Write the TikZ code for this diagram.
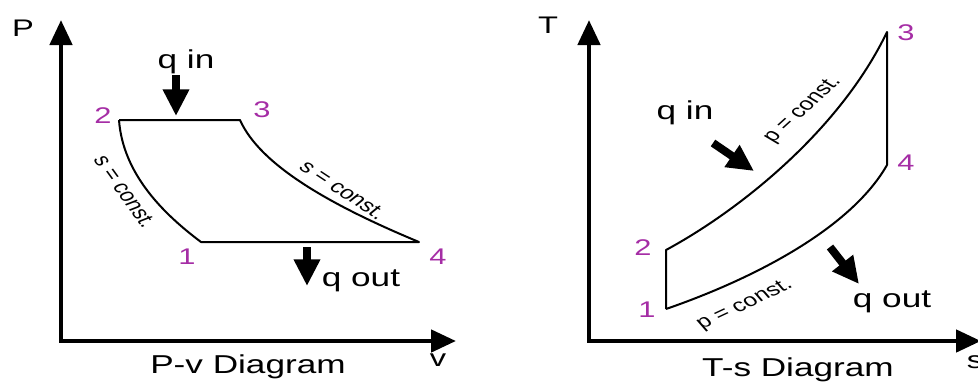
\documentclass[tikz,border=0pt]{standalone}
\usepackage{fontspec}
\setmainfont{Liberation Sans}
\usetikzlibrary{arrows.meta}
\definecolor{numcol}{RGB}{165,45,165}
\begin{document}
\begin{tikzpicture}[x=0.75pt,y=-0.75pt,
  axes/.style={line width=3.5pt,line join=miter,{Triangle[width=16.5pt,length=18.75pt]}-{Triangle[width=16.5pt,length=18.75pt]}},
  cyc/.style={line width=1.5pt,line join=round},
  heat/.style={line width=6pt,-{Triangle[width=18.75pt,length=20pt]}},
  big/.style={inner sep=0pt,xscale=1.36,font=\fontsize{19.4}{22}\selectfont},
  axlab/.style={inner sep=0pt,xscale=1.36,font=\fontsize{18}{21}\selectfont},
  num/.style={inner sep=0pt,xscale=1.36,text=numcol,font=\fontsize{17}{20}\selectfont},
  cst/.style={inner sep=0pt,xscale=1.36,font=\fontsize{13.7}{16}\selectfont},
]
\useasboundingbox (0,0) rectangle (978,383);
% ---------- P-v diagram ----------
\coordinate (O1) at (61,341);
\coordinate (Ptip) at (61,20);
\coordinate (vtip) at (456,341);
\draw[axes] (Ptip) -- (O1) -- (vtip);
\node[axlab] (Plab) at (23,28) {P};
\node[axlab] (vlab) at (438,360) {v};
\node[big] (pvtitle) at (248,367) {P-v Diagram};

\coordinate (p2) at (119,120);
\coordinate (p3) at (240,120);
\coordinate (p1) at (201,242);
\coordinate (p4) at (419,242);
\draw[cyc] (p2) -- (p3) .. controls (260,165) and (330,205) .. (p4) -- (p1) .. controls (165,215) and (123,175) .. (p2);

\node[num] (n2) at (103,116) {2};
\node[num] (n3) at (262,110) {3};
\node[num] (n1) at (187,257) {1};
\node[num] (n4) at (438,257) {4};

\node[big] (qin1) at (186,62) {q in};
\coordinate (qin1s) at (176,75);
\coordinate (qin1e) at (176,116);
\draw[heat] (qin1s) -- (qin1e);

\coordinate (qout1s) at (307,247);
\coordinate (qout1e) at (307,286);
\draw[heat] (qout1s) -- (qout1e);
\node[big] (qout1) at (361,281) {q out};

\node[cst,rotate=-62] (s12) at (125,192) {s = const.};
\node[cst,rotate=-42] (s34) at (343,190) {s = const.};

% ---------- T-s diagram ----------
\coordinate (O2) at (589,341);
\coordinate (Ttip) at (589,20);
\coordinate (stip) at (981,341);
\draw[axes] (Ttip) -- (O2) -- (stip);
\node[axlab] (Tlab) at (548,25) {T};
\node[axlab] (slab) at (975,362) {s};
\node[big] (tstitle) at (798,370) {T-s Diagram};

\coordinate (t2) at (666,250);
\coordinate (t1) at (666,309);
\coordinate (t3) at (887,32);
\coordinate (t4) at (887,165);
\draw[cyc] (t1) -- (t2) .. controls (740,210) and (840,130) .. (t3) -- (t4) .. controls (850,230) and (750,280) .. (t1);

\node[num] (m2) at (643,248) {2};
\node[num] (m1) at (647,310) {1};
\node[num] (m3) at (906,33) {3};
\node[num] (m4) at (906,163) {4};

\node[big] (qin2) at (685,113) {q in};
\coordinate (qin2s) at (713,143);
\coordinate (qin2e) at (754,171);
\draw[heat] (qin2s) -- (qin2e);

\coordinate (qout2s) at (830,247);
\coordinate (qout2e) at (859,284);
\draw[heat] (qout2s) -- (qout2e);
\node[big] (qout2) at (892,302) {q out};

\node[cst,rotate=51] (p23) at (803,110) {p = const.};
\node[cst,rotate=32.5] (p14) at (745,305) {p = const.};
\end{tikzpicture}
\end{document}
